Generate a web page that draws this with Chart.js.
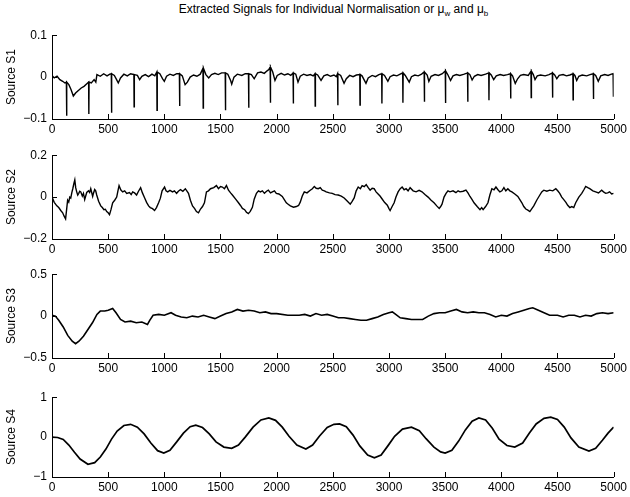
<!DOCTYPE html>
<html>
<head>
<meta charset="utf-8">
<script src="https://cdn.jsdelivr.net/npm/chart.js@4.4.1/dist/chart.umd.min.js"></script>
<style>
body { margin: 0; background: #fff; }
#fig { position: relative; width: 630px; height: 497px; font-family: "Liberation Sans", Arial, sans-serif; }
#title { position: absolute; left: 52px; width: 563px; top: 2px; text-align: center; font-size: 12px; color: #000; }
#title sub { font-size: 8px; }
canvas { position: absolute; left: 0; }
</style>
</head>
<body>
<div id="fig">
  <div id="title">Extracted Signals for Individual Normalisation or &mu;<sub>w</sub> and &mu;<sub>b</sub></div>
  <canvas id="c1"></canvas>
  <canvas id="c2"></canvas>
  <canvas id="c3"></canvas>
  <canvas id="c4"></canvas>
</div>
<script>
// x ticks shared by all four panels
const xTicks = [0, 500, 1000, 1500, 2000, 2500, 3000, 3500, 4000, 4500, 5000];

// Source S1: slow baseline + sharp periodic negative spikes
const s1X = [0,20,45,70,95,115,150,170,190,210,235,260,285,310,350,375,390,400,430,460,490,515,555,575,590,610,640,670,700,760,780,800,830,860,890,915,960,985,1000,1020,1050,1080,1110,1160,1185,1205,1230,1260,1290,1320,1370,1395,1420,1450,1480,1510,1565,1590,1600,1620,1650,1690,1720,1775,1800,1830,1860,1890,1915,1930,1965,1985,2005,2040,2070,2100,2125,2170,2190,2210,2240,2270,2300,2325,2365,2395,2420,2450,2480,2510,2530,2570,2600,2620,2650,2680,2710,2760,2795,2815,2850,2880,2910,2960,2990,3010,3040,3070,3100,3145,3180,3200,3230,3260,3290,3340,3355,3375,3410,3440,3475,3525,3548,3570,3600,3630,3670,3720,3740,3760,3790,3820,3860,3910,3932,3955,3990,4020,4055,4100,4124,4145,4170,4200,4240,4285,4300,4320,4350,4390,4425,4475,4494,4515,4550,4580,4610,4655,4671,4690,4720,4760,4790,4840,4863,4885,4920,4950,4980];
const s1Y = [0.004,-0.002,0.002,-0.006,-0.01,-0.014,-0.018,-0.03,-0.045,-0.038,-0.032,-0.026,-0.022,-0.016,-0.014,-0.006,-0.012,0.006,0.002,0.008,0.003,0.007,0.004,-0.006,-0.014,-0.002,0.007,0.003,0.008,0.004,-0.006,0.002,0.006,0.001,0.007,0.003,0.008,-0.004,-0.01,0.002,0.007,0.004,0.008,0.003,-0.018,-0.012,0.0,0.005,0.002,0.007,0.006,-0.002,0.006,0.009,0.006,0.01,0.007,-0.008,-0.017,0.0,0.007,0.004,0.008,0.006,-0.004,0.01,0.012,0.009,0.015,0.018,0.012,-0.008,0.004,0.009,0.005,0.008,0.004,0.007,-0.012,0.002,0.007,0.004,0.006,0.003,0.005,-0.008,0.003,0.006,0.002,0.005,0.001,0.004,-0.015,-0.004,0.004,0.001,0.005,0.003,-0.015,-0.002,0.004,0.001,0.006,0.004,-0.01,0.001,0.005,0.003,0.007,0.004,-0.012,0.001,0.005,0.003,0.007,0.005,-0.01,0.002,0.006,0.004,0.008,0.005,-0.008,0.003,0.006,0.004,0.007,0.006,-0.007,0.002,0.006,0.004,0.007,0.005,-0.006,0.003,0.006,0.004,0.006,0.003,-0.015,-0.004,0.004,0.006,0.004,0.006,-0.006,0.003,0.005,0.003,0.006,0.005,-0.004,0.004,0.006,0.003,0.005,0.004,-0.008,0.002,0.005,0.003,0.006,0.004,-0.01,0.003,0.006,0.004,0.007];
const spikeX   = [130,328,530,731,935,1136,1346,1544,1751,1944,2148,2343,2544,2742,2937,3124,3315,3503,3701,3890,4083,4266,4456,4639,4820,4997];
const spikeTop = [-0.012,-0.012,0.008,0.006,0.012,0.008,0.021,0.01,0.008,0.024,0.01,0.008,0.008,0.006,0.008,0.01,0.012,0.015,0.01,0.01,0.008,0.014,0.01,0.008,0.008,0.008];
const spikeLow = [-0.092,-0.088,-0.085,-0.071,-0.079,-0.069,-0.074,-0.079,-0.073,-0.061,-0.063,-0.069,-0.067,-0.067,-0.063,-0.061,-0.059,-0.062,-0.059,-0.055,-0.051,-0.049,-0.049,-0.054,-0.052,-0.047];

// Source S2
const s2X = [0,20,43,60,78,95,107,121,130,139,149,158,167,176,185,195,203,211,220,229,238,247,256,270,280,291,300,309,325,335,345,362,370,380,389,398,415,434,448,462,475,487,500,512,525,540,558,576,587,597,612,629,647,665,690,705,718,735,753,770,789,805,825,842,860,875,895,913,930,949,965,980,1002,1015,1030,1050,1073,1090,1109,1125,1144,1165,1187,1200,1215,1232,1251,1270,1286,1304,1322,1340,1357,1375,1393,1411,1440,1464,1482,1500,1517,1535,1553,1571,1590,1606,1635,1660,1678,1695,1715,1731,1748,1765,1784,1800,1820,1838,1855,1873,1891,1910,1926,1945,1962,1980,1997,2020,2050,2068,2086,2105,2122,2150,2175,2195,2210,2228,2246,2270,2299,2318,2335,2352,2370,2388,2406,2425,2441,2470,2495,2520,2548,2575,2601,2630,2655,2672,2690,2708,2726,2745,2761,2780,2797,2815,2832,2850,2868,2885,2903,2920,2939,2960,2985,3000,3010,3028,3046,3062,3081,3100,3117,3135,3152,3170,3188,3215,3241,3268,3294,3320,3348,3375,3401,3425,3447,3460,3472,3490,3508,3525,3543,3570,3596,3615,3632,3660,3685,3703,3721,3740,3757,3785,3810,3825,3838,3860,3881,3898,3916,3935,3952,3970,3987,4005,4023,4040,4058,4076,4094,4120,4147,4165,4183,4200,4218,4236,4254,4272,4289,4315,4343,4360,4378,4405,4431,4458,4485,4502,4520,4538,4556,4575,4591,4610,4627,4645,4662,4690,4716,4735,4751,4770,4787,4815,4840,4865,4893,4910,4929,4947,4964,4982,5000];
const s2Y = [0,-0.025,-0.042,-0.05,-0.064,-0.075,-0.09,-0.104,-0.06,-0.015,-0.024,0.0,-0.005,0.02,0.04,0.065,0.082,0.045,0.025,0.01,0.018,0.028,0.025,0.005,0.018,-0.012,0.005,0.022,0.03,0.022,0.04,0.003,0.02,0.036,0.03,0.01,-0.02,-0.042,-0.05,-0.06,-0.058,-0.069,-0.075,-0.084,-0.06,-0.027,-0.015,0,0.03,0.055,0.035,0.025,0.03,0.018,0.022,0.012,0.025,0.02,0.01,0.028,0.045,0.02,-0.004,-0.025,-0.042,-0.05,-0.055,-0.064,-0.05,-0.027,-0.005,0.03,0.048,0.03,0.025,0.032,0.025,0.03,0.018,0.028,0.036,0.028,0.04,0.03,0.018,-0.015,-0.042,-0.055,-0.069,-0.075,-0.057,-0.045,-0.027,0.025,0.03,0.04,0.045,0.055,0.04,0.05,0.048,0.04,0.055,0.033,0.02,0.01,-0.01,-0.027,-0.04,-0.054,-0.06,-0.072,-0.079,-0.068,-0.049,-0.01,0.018,0.03,0.025,0.03,0.018,0.028,0.033,0.02,0.025,0.03,0.018,0.015,0.003,-0.012,-0.027,-0.035,-0.042,-0.048,-0.045,-0.04,-0.024,0.005,0.025,0.02,0.033,0.04,0.051,0.042,0.04,0.045,0.033,0.03,0.025,0.02,0.018,0.012,0.01,0.005,-0.004,-0.02,-0.034,-0.02,-0.004,0.03,0.048,0.04,0.055,0.05,0.06,0.045,0.033,0.042,0.04,0.025,0.015,0.005,-0.009,-0.025,-0.039,-0.055,-0.064,-0.045,-0.027,0.0,0.025,0.04,0.048,0.035,0.04,0.03,0.045,0.03,0.025,0.032,0.025,0.012,0,-0.015,-0.027,-0.042,-0.054,-0.045,-0.034,0.0,0.018,0.03,0.025,0.03,0.021,0.03,0.025,0.028,0.033,0.02,0.003,-0.012,-0.027,-0.045,-0.06,-0.05,-0.06,-0.045,-0.027,0.01,0.04,0.035,0.048,0.035,0.025,0.03,0.045,0.03,0.04,0.03,0.025,0.015,0.003,-0.012,-0.027,-0.045,-0.057,-0.062,-0.069,-0.055,-0.042,-0.015,0.01,0.025,0.033,0.028,0.033,0.03,0.04,0.03,0.018,0.0,-0.012,-0.025,-0.039,-0.05,-0.045,-0.05,-0.027,0.0,0.018,0.035,0.051,0.045,0.04,0.03,0.025,0.02,0.033,0.025,0.018,0.02,0.025,0.015,0.018];

// Source S3
const s3X = [0,30,60,100,140,180,210,240,280,320,360,400,430,470,500,540,570,610,650,700,750,800,850,870,900,950,1000,1060,1100,1150,1200,1250,1300,1350,1400,1450,1500,1550,1600,1650,1700,1750,1800,1850,1900,1950,2000,2100,2200,2250,2300,2350,2400,2450,2500,2550,2600,2650,2700,2750,2800,2850,2900,2950,3000,3030,3060,3100,3150,3200,3250,3300,3350,3400,3450,3500,3550,3600,3650,3700,3750,3800,3850,3900,3950,4000,4050,4100,4150,4200,4250,4280,4330,4380,4430,4500,4550,4600,4650,4700,4750,4800,4850,4900,4950,5000];
const s3Y = [0.01,0,-0.05,-0.13,-0.23,-0.3,-0.33,-0.3,-0.24,-0.16,-0.08,0.02,0.06,0.06,0.07,0.09,0.04,-0.04,-0.07,-0.06,-0.08,-0.07,-0.1,-0.05,0.01,0.02,0.01,0.04,0.01,-0.01,-0.02,0,-0.01,0.01,-0.01,-0.03,0,0.03,0.05,0.08,0.06,0.07,0.06,0.04,0.05,0.03,0.03,0.01,0.01,0.02,0,0.03,0.01,0.02,0,-0.02,-0.02,-0.03,-0.04,-0.05,-0.05,-0.03,-0.01,0.02,0.04,0.05,0.02,-0.02,-0.03,-0.04,-0.04,-0.04,0,0.03,0.04,0.04,0.06,0.08,0.05,0.04,0.05,0.04,0.04,0.02,-0.01,0.01,0.0,0.03,0.05,0.07,0.09,0.1,0.07,0.04,0.01,0.01,-0.01,0.01,0.01,-0.01,0.01,0,0.03,0.04,0.03,0.04];

// Source S4
const s4X = [0,50,100,150,200,250,320,380,430,480,530,580,640,700,760,820,880,940,995,1050,1110,1170,1230,1280,1340,1400,1460,1530,1600,1660,1720,1790,1860,1930,1990,2050,2110,2180,2260,2320,2380,2450,2510,2560,2620,2680,2740,2810,2870,2930,2990,3050,3120,3200,3270,3330,3400,3460,3500,3560,3620,3680,3740,3800,3860,3920,3980,4050,4120,4190,4250,4310,4380,4440,4500,4560,4620,4690,4780,4840,4900,4950,5000];
const s4Y = [0,-0.01,-0.06,-0.2,-0.38,-0.55,-0.68,-0.64,-0.5,-0.3,-0.05,0.15,0.29,0.32,0.25,0.08,-0.15,-0.34,-0.4,-0.33,-0.12,0.1,0.26,0.3,0.24,0.08,-0.12,-0.25,-0.28,-0.2,0,0.25,0.43,0.48,0.42,0.25,0.02,-0.2,-0.3,-0.2,0.02,0.24,0.32,0.33,0.26,0.05,-0.22,-0.45,-0.52,-0.45,-0.22,0.02,0.2,0.25,0.16,-0.04,-0.25,-0.37,-0.4,-0.33,-0.1,0.18,0.4,0.48,0.43,0.22,-0.05,-0.21,-0.25,-0.15,0.1,0.33,0.47,0.5,0.44,0.25,-0.02,-0.25,-0.35,-0.28,-0.08,0.1,0.25];

const yTicks = [[-0.1, 0, 0.1], [-0.2, 0, 0.2], [-0.5, 0, 0.5], [-1, 0, 1]];
const yLabels = ['Source S1', 'Source S2', 'Source S3', 'Source S4'];

const font = { family: 'Liberation Sans', size: 12 };

// MATLAB style tick marks pointing into the axes
const inwardTicks = {
  id: 'inwardTicks',
  afterDraw(chart) {
    const { ctx, chartArea: a, scales: { x, y } } = chart;
    ctx.save();
    ctx.strokeStyle = '#000';
    ctx.lineWidth = 1;
    ctx.beginPath();
    x.ticks.forEach(t => {
      const px = Math.round(x.getPixelForValue(t.value)) + 0.5;
      ctx.moveTo(px, a.bottom);
      ctx.lineTo(px, a.bottom - 5);
    });
    y.ticks.forEach(t => {
      const py = Math.round(y.getPixelForValue(t.value)) + 0.5;
      ctx.moveTo(a.left, py);
      ctx.lineTo(a.left + 5, py);
    });
    ctx.stroke();
    ctx.restore();
  }
};

function pairs(xs, ys) {
  return xs.map((x, i) => ({ x: x, y: ys[i] }));
}

function s1Points() {
  let pts = pairs(s1X, s1Y);
  spikeX.forEach((s, i) => {
    pts.push({ x: s - 2, y: spikeTop[i] });
    pts.push({ x: s, y: spikeLow[i] });
    pts.push({ x: s + 2, y: spikeTop[i] });
  });
  return pts.sort((a, b) => a.x - b.x);
}

function makePanel(id, top, plotH, pts, k, lw) {
  const cv = document.getElementById(id);
  const padTop = 8, xAxisH = 22;
  cv.width = 630;
  cv.height = padTop + plotH + xAxisH;
  cv.style.top = (top - padTop) + 'px';
  const ticks = yTicks[k];
  new Chart(cv, {
    type: 'line',
    data: {
      datasets: [{
        data: pts,
        borderColor: '#000',
        borderWidth: lw,
        pointRadius: 0,
        tension: 0,
        fill: false
      }]
    },
    options: {
      responsive: false,
      animation: false,
      layout: { padding: { top: padTop, right: 15, left: 0, bottom: 0 } },
      plugins: { legend: { display: false }, tooltip: { enabled: false } },
      scales: {
        x: {
          type: 'linear',
          min: 0,
          max: 5000,
          afterBuildTicks: s => { s.ticks = xTicks.map(v => ({ value: v })); },
          afterFit: s => { s.height = xAxisH; },
          grid: { display: true, drawOnChartArea: false, drawTicks: false },
          border: { color: '#000', width: 1 },
          ticks: { color: '#000', font: font, padding: 3, maxRotation: 0, autoSkip: false, callback: v => String(v) }
        },
        y: {
          min: ticks[0],
          max: ticks[ticks.length - 1],
          afterBuildTicks: s => { s.ticks = ticks.map(v => ({ value: v })); },
          afterFit: s => { s.width = 52; },
          grid: { display: true, drawOnChartArea: false, drawTicks: false },
          border: { color: '#000', width: 1 },
          title: { display: true, text: yLabels[k], color: '#000', font: font, padding: { top: 4, bottom: 0 } },
          ticks: { color: '#000', font: font, padding: 5, callback: v => v < 0 ? '\u2212' + Math.abs(v) : String(v) }
        }
      }
    },
    plugins: [inwardTicks]
  });
}

makePanel('c1', 31, 88, s1Points(), 0, 1.4);
makePanel('c2', 151, 88, pairs(s2X, s2Y), 1, 1.4);
makePanel('c3', 270, 88, pairs(s3X, s3Y), 2, 1.6);
makePanel('c4', 393, 84, pairs(s4X, s4Y), 3, 1.7);
</script>
</body>
</html>
